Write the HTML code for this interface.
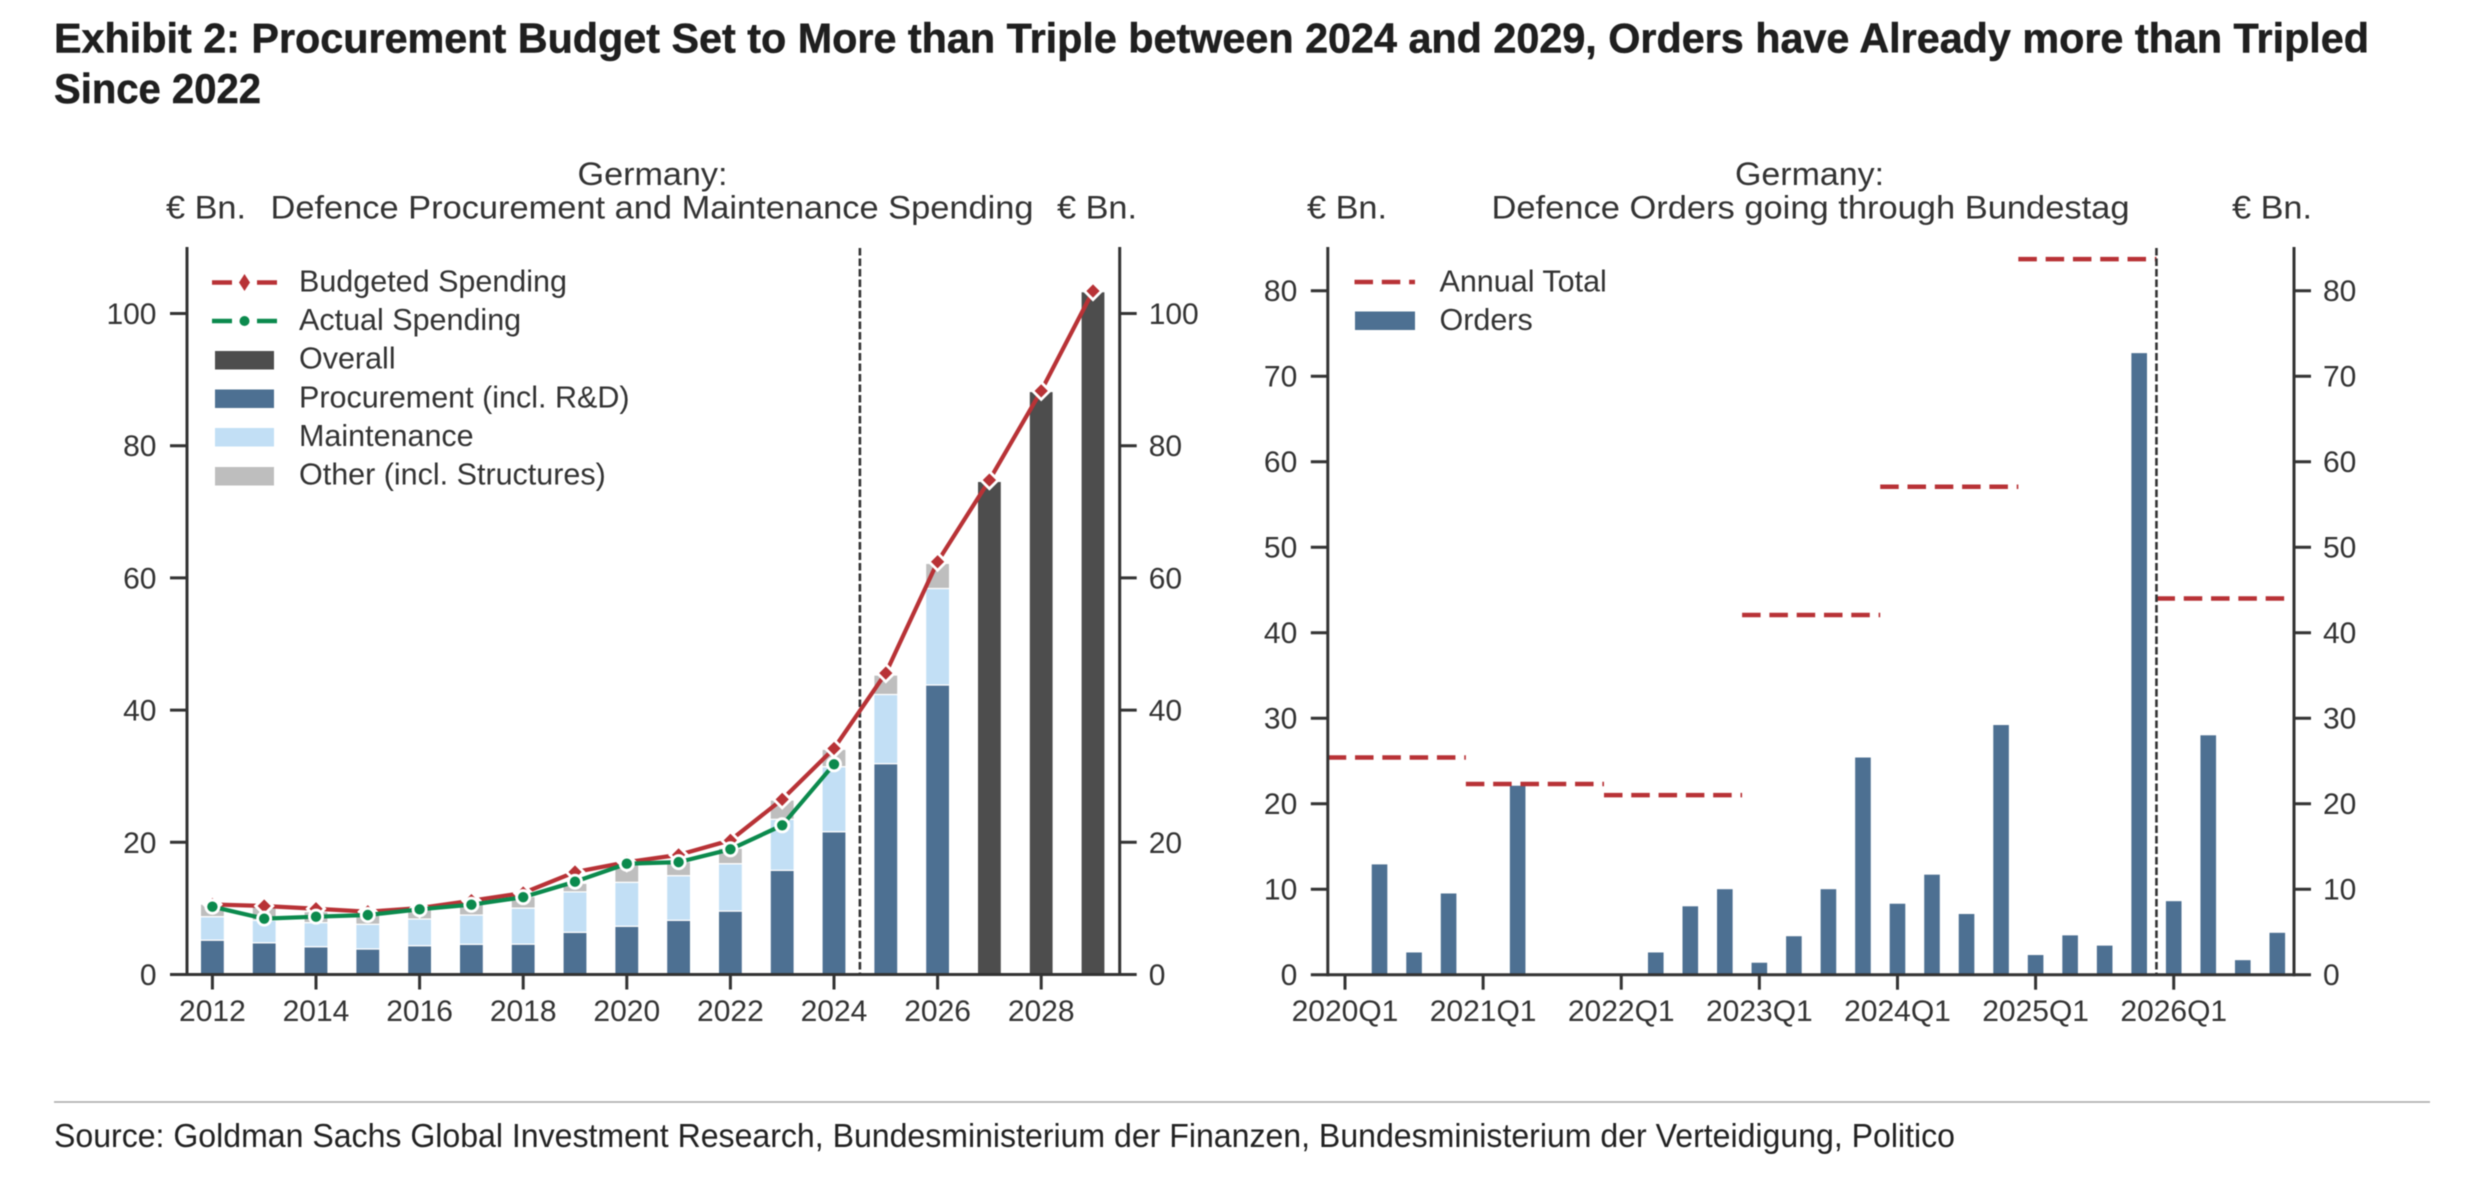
<!DOCTYPE html>
<html lang="en">
<head>
<meta charset="utf-8">
<title>Exhibit 2: Germany defence procurement</title>
<style>
html,body{margin:0;padding:0;background:#fff;width:2484px;height:1180px;overflow:hidden}
svg{display:block;filter:blur(0.5px)}
text{font-family:"Liberation Sans",sans-serif;fill:#333}
.heading{font-weight:700;font-size:42px;fill:#1f1f1f;stroke:#1f1f1f;stroke-width:0.5px}
.source{font-size:33px;fill:#222}
.chart-title{font-size:32px}
.legend-label{font-size:30.5px}
.tick-label{font-size:30px}
</style>
</head>
<body>
<svg id="root" xmlns="http://www.w3.org/2000/svg" width="2484" height="1180" viewBox="0 0 2484 1180">
  <text class="heading" x="54" y="52.5" textLength="2315" lengthAdjust="spacingAndGlyphs">Exhibit 2: Procurement Budget Set to More than Triple between 2024 and 2029, Orders have Already more than Tripled</text>
  <text class="heading" x="54" y="103" textLength="207" lengthAdjust="spacingAndGlyphs">Since 2022</text>

  <g id="left-chart">
    <text class="chart-title" x="577.5" y="185" textLength="150" lengthAdjust="spacingAndGlyphs">Germany:</text>
    <text class="chart-title" x="166" y="218.5" textLength="80" lengthAdjust="spacingAndGlyphs">€ Bn.</text>
    <text class="chart-title" x="270.5" y="218.5" textLength="763" lengthAdjust="spacingAndGlyphs">Defence Procurement and Maintenance Spending</text>
    <text class="chart-title" x="1057" y="218.5" textLength="80" lengthAdjust="spacingAndGlyphs">€ Bn.</text>
    <g id="left-marks"></g>
    <g id="left-axes"></g>
    <g id="left-lines"></g>
    <g>
      <g>
        <line x1="212" x2="277" y1="282.5" y2="282.5" stroke="#b83236" stroke-width="4.5" stroke-dasharray="20 25 20"/>
        <path d="M244.5 274l5.5 8.500-5.500 8.500-5.500-8.500z" fill="#b83236"/>
        <text class="legend-label" x="299" y="291.500">Budgeted Spending</text>
      </g>
      <g>
        <line x1="212" x2="277" y1="321" y2="321" stroke="#0b8a4d" stroke-width="4.5" stroke-dasharray="20 25 20"/>
        <circle cx="244.500" cy="321" r="5" fill="#0b8a4d"/>
        <text class="legend-label" x="299" y="330">Actual Spending</text>
      </g>
      <g>
        <rect x="215" y="351" width="59" height="18.500" fill="#4d4d4d"/>
        <text class="legend-label" x="299" y="368.700">Overall</text>
      </g>
      <g>
        <rect x="215" y="389.500" width="59" height="18.500" fill="#4d7092"/>
        <text class="legend-label" x="299" y="407.300">Procurement (incl. R&amp;D)</text>
      </g>
      <g>
        <rect x="215" y="428" width="59" height="18.500" fill="#c2dff5"/>
        <text class="legend-label" x="299" y="446">Maintenance</text>
      </g>
      <g>
        <rect x="215" y="467" width="59" height="18.500" fill="#bebebe"/>
        <text class="legend-label" x="299" y="484.700">Other (incl. Structures)</text>
      </g>
    </g>
  </g>

  <g id="right-chart">
    <text class="chart-title" x="1735" y="185" textLength="149" lengthAdjust="spacingAndGlyphs">Germany:</text>
    <text class="chart-title" x="1307" y="218.500" textLength="80" lengthAdjust="spacingAndGlyphs">€ Bn.</text>
    <text class="chart-title" x="1491.500" y="218.500" textLength="638" lengthAdjust="spacingAndGlyphs">Defence Orders going through Bundestag</text>
    <text class="chart-title" x="2232" y="218.500" textLength="80" lengthAdjust="spacingAndGlyphs">€ Bn.</text>
    <g id="right-marks"></g>
    <g id="right-axes"></g>
    <g>
      <g>
        <line x1="1354.500" x2="1415" y1="282" y2="282" stroke="#b83236" stroke-width="4.500" stroke-dasharray="18.500 8.800"/>
        <text class="legend-label" x="1439.500" y="291.500">Annual Total</text>
      </g>
      <g>
        <rect x="1355" y="311.500" width="60" height="18.500" fill="#4d7092"/>
        <text class="legend-label" x="1439.500" y="330">Orders</text>
      </g>
    </g>
  </g>

  <line x1="54" x2="2430" y1="1102" y2="1102" stroke="#a8a8a8" stroke-width="1.500"/>
  <text class="source" x="54" y="1147" textLength="1901" lengthAdjust="spacingAndGlyphs">Source: Goldman Sachs Global Investment Research, Bundesministerium der Finanzen, Bundesministerium der Verteidigung, Politico</text>
</svg>

<script>
// ---- left chart data (EUR bn) ----
const spendYears = [2012,2013,2014,2015,2016,2017,2018,2019,2020,2021,2022,2023,2024,2025,2026,2027,2028,2029];
const procurement = [5.2,4.8,4.2,3.86,4.36,4.57,4.6,6.38,7.3,8.2,9.6,15.76,21.6,31.9,43.8];
const maintenance = [3.55,3.4,3.65,3.74,4.04,4.43,5.45,6.12,6.65,6.75,7.16,7.72,9.84,10.46,14.6];
const otherSpend = [1.9,2.1,1.65,1.9,1.6,1.8,1.75,1.3,2.9,2.12,2.34,2.92,2.63,2.94,3.8];
const overallYears = [2027,2028,2029];
const overallSpend = [74.6,88.2,103.3];
const budgeted = [10.6,10.36,9.95,9.5,10.05,11.17,12.33,15.5,17.0,18.1,20.3,26.5,34.2,45.6,62.45,74.8,88.3,103.4];
const actual = [10.26,8.45,8.75,9.0,9.86,10.56,11.7,14.04,16.76,17.0,18.94,22.57,31.8];
const leftYTicks = [0,20,40,60,80,100];
const leftXTicks = [2012,2014,2016,2018,2020,2022,2024,2026,2028];
const forecastStartYear = 2024.5;

// ---- right chart data (EUR bn) ----
const quarters = ['2020Q1','2020Q2','2020Q3','2020Q4','2021Q1','2021Q2','2021Q3','2021Q4','2022Q1','2022Q2','2022Q3','2022Q4','2023Q1','2023Q2','2023Q3','2023Q4','2024Q1','2024Q2','2024Q3','2024Q4','2025Q1','2025Q2','2025Q3','2025Q4','2026Q1','2026Q2','2026Q3','2026Q4'];
const orders = [0,12.9,2.6,9.5,0,22.1,0,0,0,2.6,8.0,10.0,1.4,4.5,10.0,25.4,8.3,11.7,7.1,29.2,2.3,4.6,3.4,72.7,8.6,28.0,1.7,4.9];
const totalYears = ['2020','2021','2022','2023','2024','2025','2026'];
const annualTotals = [25.4,22.3,21.0,42.07,57.07,83.7,44.0];
const rightYTicks = [0,10,20,30,40,50,60,70,80];
const rightXTicks = ['2020Q1','2021Q1','2022Q1','2023Q1','2024Q1','2025Q1','2026Q1'];

// ---- axis functions ----
const xL = year => 212.4 + 51.8 * (year - 2012);
const yL = v => 974.5 - 6.61 * v;
const xR = q => 1345 + 34.53 * q;
const yR = v => 974.7 - 8.55 * v;

const NS = 'http://www.w3.org/2000/svg';
const COLORS = {red:'#b83236', green:'#0b8a4d', blue:'#4d7092', light:'#c2dff5', gray:'#bebebe', dark:'#4d4d4d', axis:'#333333'};

function make(parent, tag, attrs, content) {
  const el = document.createElementNS(NS, tag);
  for (const k in attrs) el.setAttribute(k, attrs[k]);
  if (content !== undefined) el.textContent = content;
  parent.appendChild(el);
  return el;
}

const leftMarks = document.getElementById('left-marks');
const leftAxes = document.getElementById('left-axes');
const leftLines = document.getElementById('left-lines');
const rightMarks = document.getElementById('right-marks');
const rightAxes = document.getElementById('right-axes');

// ---- left stacked bars ----
function stackedBar(year, from, value, fill, name) {
  const bw = 24;
  const r = make(leftMarks, 'rect', {x: xL(year) - bw / 2, y: yL(from + value), width: bw, height: yL(from) - yL(from + value), fill: fill, stroke: '#fff', 'stroke-width': 1.2});
  
  
}
procurement.forEach((p, i) => {
  const year = spendYears[i];
  stackedBar(year, 0, p, COLORS.blue, 'bar-procurement-' + year);
  stackedBar(year, p, maintenance[i], COLORS.light, 'bar-maintenance-' + year);
  stackedBar(year, p + maintenance[i], otherSpend[i], COLORS.gray, 'bar-other-' + year);
});
overallSpend.forEach((v, i) => {
  stackedBar(overallYears[i], 0, v, COLORS.dark, 'bar-overall-' + overallYears[i]);
});

// ---- shared axis drawing ----
function drawAxes(group, prefix, leftX, rightX, topY, zeroY, yScale, yTicks, xTicks, xPos) {
  const spineL = make(group, 'line', {x1: leftX, x2: leftX, y1: topY, y2: zeroY + 1.5, stroke: COLORS.axis, 'stroke-width': 3});
  
  
  const spineR = make(group, 'line', {x1: rightX, x2: rightX, y1: topY, y2: zeroY + 1.5, stroke: COLORS.axis, 'stroke-width': 3});
  
  
  const spineB = make(group, 'line', {x1: leftX, x2: rightX, y1: zeroY, y2: zeroY, stroke: COLORS.axis, 'stroke-width': 3});
  
  
  yTicks.forEach(v => {
    const y = yScale(v);
    const t1 = make(group, 'line', {x1: leftX - 17, x2: leftX, y1: y, y2: y, stroke: COLORS.axis, 'stroke-width': 3});
    
    
    const t2 = make(group, 'line', {x1: rightX, x2: rightX + 17, y1: y, y2: y, stroke: COLORS.axis, 'stroke-width': 3});
    
    
    const l1 = make(group, 'text', {x: leftX - 30.5, y: y + 10.5, 'text-anchor': 'end', class: 'tick-label'}, String(v));
    
    
    const l2 = make(group, 'text', {x: rightX + 29, y: y + 10.5, class: 'tick-label'}, String(v));
    
    
  });
  xTicks.forEach(v => {
    const x = xPos(v);
    const t = make(group, 'line', {x1: x, x2: x, y1: zeroY, y2: zeroY + 15, stroke: COLORS.axis, 'stroke-width': 3});
    
    
    const l = make(group, 'text', {x: x, y: zeroY + 46.500, 'text-anchor': 'middle', class: 'tick-label'}, String(v));
    
    
  });
}
drawAxes(leftAxes, 'left', 187, 1119.7, 247, yL(0), yL, leftYTicks, leftXTicks, xL);
drawAxes(rightAxes, 'right', 1327.8, 2294, 247, yR(0), yR, rightYTicks, rightXTicks, t => xR(quarters.indexOf(t)));

// ---- forecast dividers ----
const vLeft = make(leftLines, 'line', {x1: xL(forecastStartYear), x2: xL(forecastStartYear), y1: 248, y2: yL(0), stroke: '#333', 'stroke-width': 2.600, 'stroke-dasharray': '7.500 3'});


const vRight = make(rightAxes, 'line', {x1: xR(23.5), x2: xR(23.5), y1: 248, y2: yR(0), stroke: '#333', 'stroke-width': 2.600, 'stroke-dasharray': '7.500 3'});



// ---- left lines and markers ----
const budgetPath = make(leftLines, 'polyline', {points: budgeted.map((v, i) => xL(spendYears[i]) + ',' + yL(v)).join(' '), fill: 'none', stroke: COLORS.red, 'stroke-width': 4.2, 'stroke-linejoin': 'round'});


budgeted.forEach((v, i) => {
  const cx = xL(spendYears[i]), cy = yL(v), r = 8.6;
  const d = make(leftLines, 'path', {d: 'M' + cx + ' ' + (cy - r) + 'L' + (cx + r) + ' ' + cy + 'L' + cx + ' ' + (cy + r) + 'L' + (cx - r) + ' ' + cy + 'Z', fill: COLORS.red, stroke: '#fff', 'stroke-width': 2.800, 'stroke-linejoin': 'miter'});
  
  
});
const actualPath = make(leftLines, 'polyline', {points: actual.map((v, i) => xL(spendYears[i]) + ',' + yL(v)).join(' '), fill: 'none', stroke: COLORS.green, 'stroke-width': 4.2, 'stroke-linejoin': 'round'});


actual.forEach((v, i) => {
  const c = make(leftLines, 'circle', {cx: xL(spendYears[i]), cy: yL(v), r: 6.600, fill: COLORS.green, stroke: '#fff', 'stroke-width': 2.800});
  
  
});

// ---- right bars and annual totals ----
orders.forEach((v, i) => {
  if (v <= 0) return;
  const bw = 15.600;
  const r = make(rightMarks, 'rect', {x: xR(i) - bw / 2, y: yR(v), width: bw, height: yR(0) - yR(v), fill: COLORS.blue});
  
  
});
annualTotals.forEach((v, i) => {
  const l = make(rightMarks, 'line', {x1: xR(4 * i - 0.5), x2: xR(4 * i + 3.5), y1: yR(v), y2: yR(v), stroke: COLORS.red, 'stroke-width': 4.500, 'stroke-dasharray': '18.500 8.800'});
  
  
});
</script>
</body>
</html>
